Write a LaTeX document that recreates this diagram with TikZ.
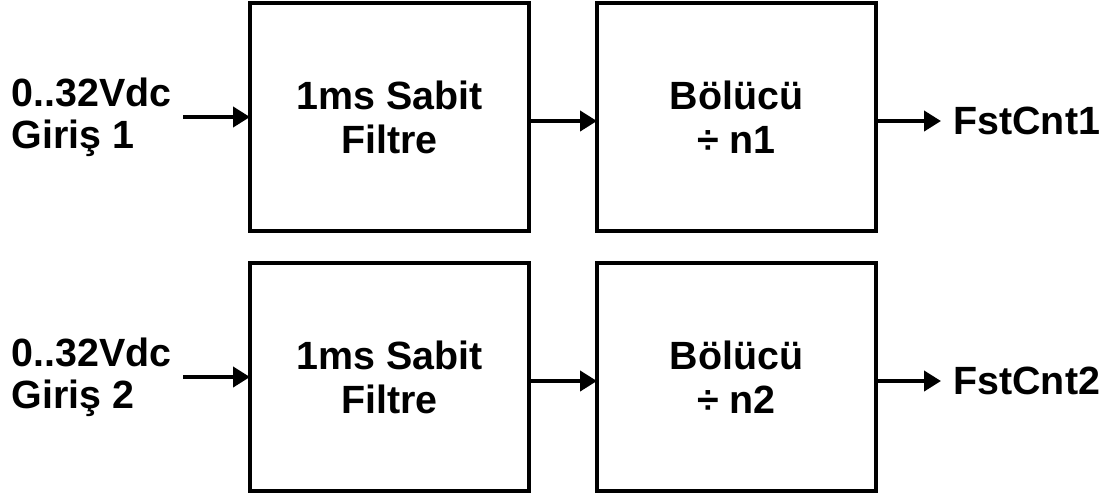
\documentclass[tikz,border=0pt]{standalone}
\usepackage{fontspec}
\setmainfont{Liberation Sans}
\usetikzlibrary{positioning, arrows.meta}
\tikzstyle{block} = [
    rectangle,
    minimum width=139.5pt,
    minimum height=114pt,
    draw=black,
    line width=2pt,
    outer sep=0pt,
    align=center,
    font=\bfseries\fontsize{19.7pt}{22pt}\selectfont
]
\tikzstyle{sigtext} = [
    inner sep=0pt,
    align=left,
    font=\bfseries\fontsize{19.7pt}{21pt}\selectfont
]
\tikzstyle{arrow} = [line width=2pt, -{Triangle[length=8.5pt,width=10pt]}]
\begin{document}
\begin{tikzpicture}[x=0.5pt, y=-0.5pt]
\useasboundingbox (0,0) rectangle (1113,495);

\node (filt1) [block] at (389.5,117) {1ms Sabit\\Filtre};

\node (div1) [block, right=34pt of filt1] {Bölücü\\÷ n1};

\node (filt2) [block, below=16pt of filt1] {1ms Sabit\\Filtre};

\node (div2) [block, right=34pt of filt2] {Bölücü\\÷ n2};

\coordinate [left=33.5pt of filt1] (in1);
\coordinate [right=32.5pt of div1, yshift=-2pt] (out1);
\coordinate [left=33.5pt of filt2] (in2);
\coordinate [right=32.5pt of div2, yshift=-2pt] (out2);

\node (src1) [sigtext, left=5.5pt of in1] {0..32Vdc\\Giriş 1};
\node (dst1) [sigtext, right=6pt of out1] {FstCnt1};
\node (src2) [sigtext, left=5.5pt of in2] {0..32Vdc\\Giriş 2};
\node (dst2) [sigtext, right=6pt of out2] {FstCnt2};

\draw [arrow] (in1) -- (filt1);
\draw [arrow] ([yshift=-2pt]filt1.east) -- ([yshift=-2pt]div1.west);
\draw [arrow] (div1.east |- out1) -- (out1);
\draw [arrow] (in2) -- (filt2);
\draw [arrow] ([yshift=-2pt]filt2.east) -- ([yshift=-2pt]div2.west);
\draw [arrow] (div2.east |- out2) -- (out2);

\end{tikzpicture}
\end{document}
